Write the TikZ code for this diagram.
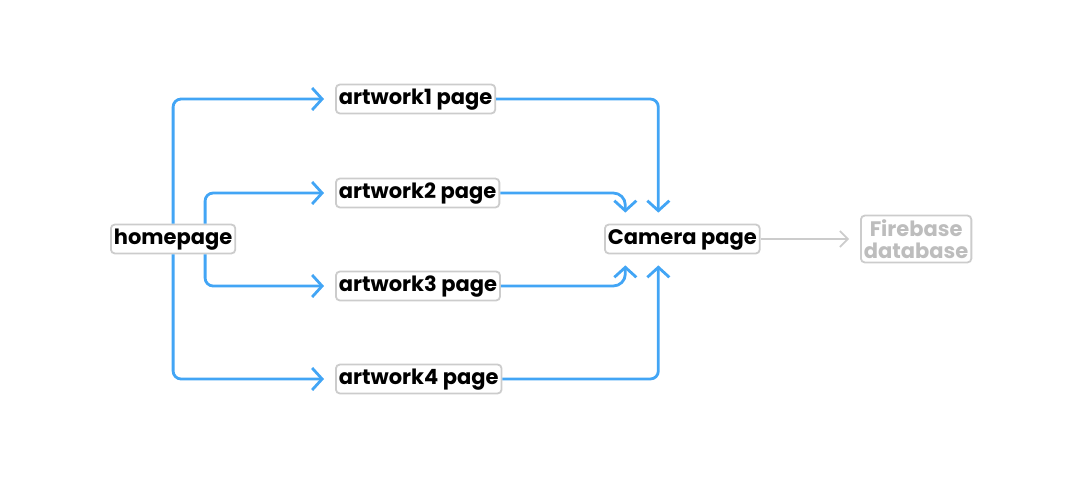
\documentclass[tikz,border=0pt]{standalone}
\usepackage{fontspec}
\setmainfont{Poppins}
\usetikzlibrary{arrows.meta}
\definecolor{flowblue}{HTML}{42A5F5}
\definecolor{boxgray}{HTML}{CCCCCC}
\definecolor{txtgray}{HTML}{BDBDBD}
\tikzset{
  pagebox/.style={draw=boxgray, line width=1.8pt, rounded corners=4pt, fill=white,
    inner xsep=3pt, inner ysep=5pt, font=\fontsize{21}{22}\selectfont\bfseries, text=black,
    text height=15pt, text depth=4pt},
  dbbox/.style={draw=boxgray, line width=1.8pt, rounded corners=4pt, fill=white,
    inner xsep=3pt, inner ysep=4pt, text=txtgray, align=center,
    font=\fontsize{21}{22}\selectfont\bfseries},
  flow/.style={draw=flowblue, line width=2.8pt, rounded corners=8pt,
    -{Straight Barb[length=10pt,width=22pt,line width=2.8pt]}, shorten >=11pt},
  flowb/.style={flow, rounded corners=12pt},
  dbflow/.style={draw=boxgray, line width=1.6pt,
    -{Straight Barb[length=8pt,width=16pt,line width=1.6pt]}, shorten >=11pt}
}
\begin{document}
\begin{tikzpicture}[x=1pt,y=-1pt]
\useasboundingbox (0,0) rectangle (1080,480);
\node[pagebox, anchor=west] (home) at (110,239) {homepage};
\node[pagebox, anchor=west] (a1) at (335,99) {artwork1 page};
\node[pagebox, anchor=west] (a2) at (335,193) {artwork2 page};
\node[pagebox, anchor=west] (a3) at (335,286) {artwork3 page};
\node[pagebox, anchor=west] (a4) at (335,379) {artwork4 page};
\node[pagebox, anchor=west] (cam) at (604,239) {Camera page};
\node[dbbox, anchor=west] (db) at (860,239) {Firebase\\database};
\coordinate (h2) at ([xshift=32pt]home.north);
\coordinate (h3) at ([xshift=32pt]home.south);
\coordinate (c1) at ([xshift=-24pt]cam.north);
\coordinate (c2) at ([xshift=-57pt]cam.north);
\coordinate (c3) at ([xshift=-57pt]cam.south);
\coordinate (c4) at ([xshift=-24pt]cam.south);
\draw[flow] (home.north) |- (a1.west);
\draw[flow] (h2) |- (a2.west);
\draw[flow] (h3) |- (a3.west);
\draw[flow] (home.south) |- (a4.west);
\draw[flow] (a1.east) -| (c1);
\draw[flowb] (a2.east) -| (c2);
\draw[flowb] (a3.east) -| (c3);
\draw[flow] (a4.east) -| (c4);
\draw[dbflow] (cam.east) -- (db.west);
\end{tikzpicture}
\end{document}
